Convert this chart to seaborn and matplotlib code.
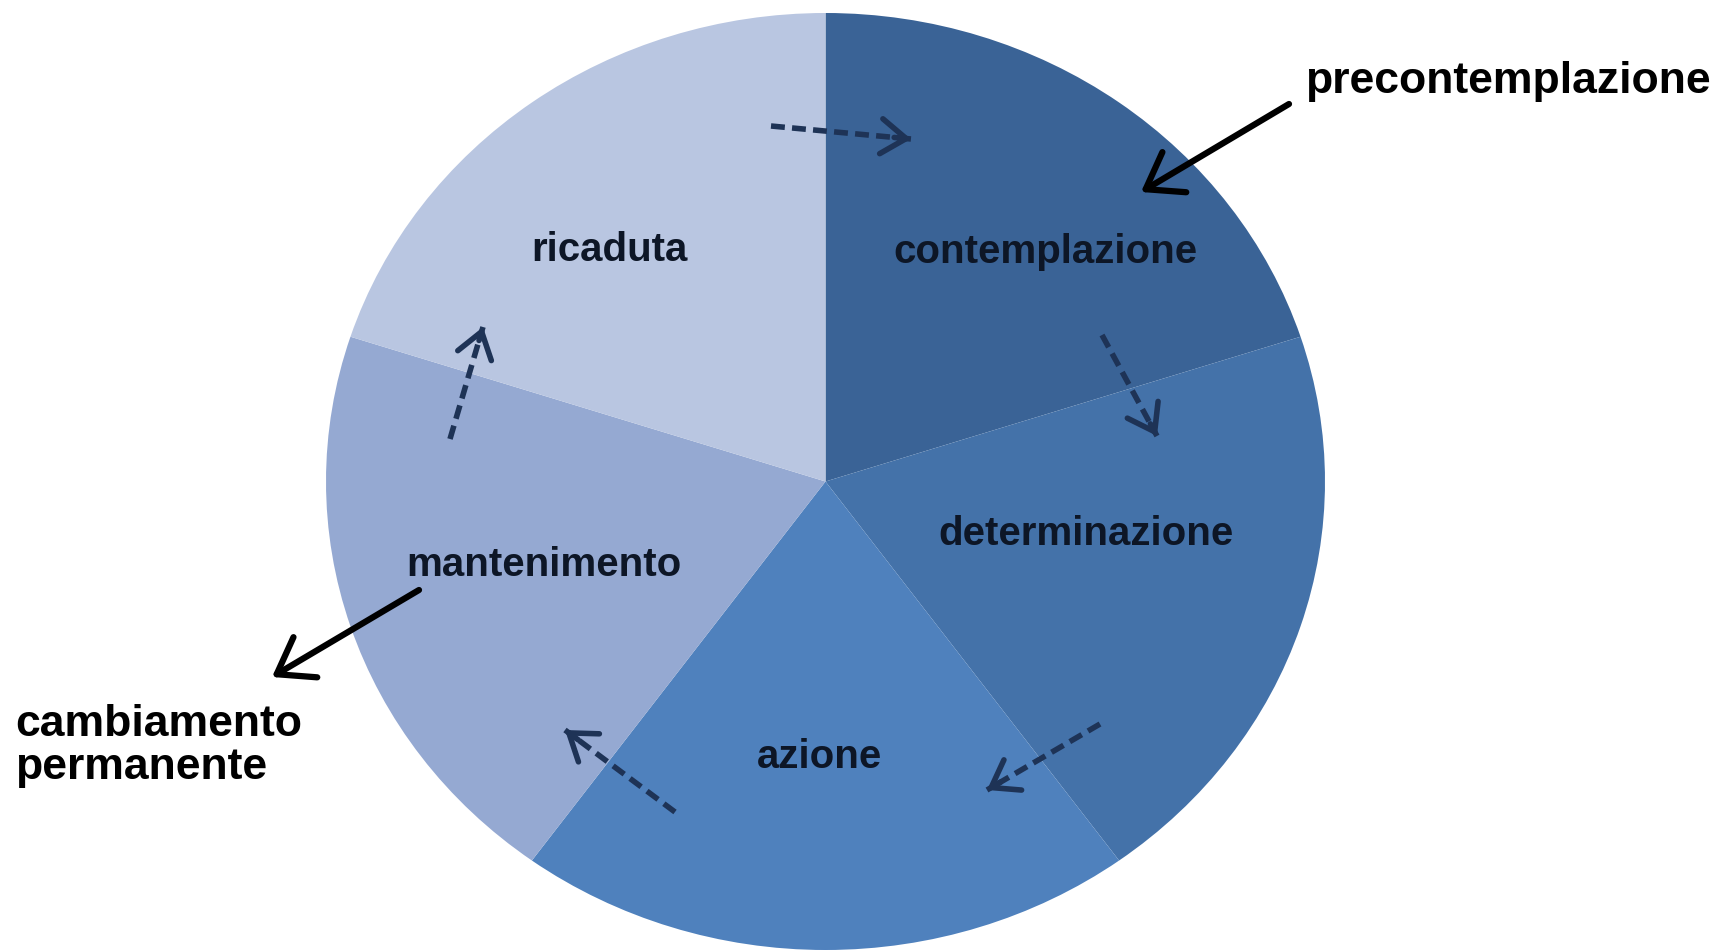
import matplotlib
matplotlib.use('Agg')
import matplotlib.pyplot as plt
import seaborn as sns

# stages of change (equal slices, clockwise from top)
fasi = ['contemplazione', 'determinazione', 'azione', 'mantenimento', 'ricaduta']
quote = [1, 1, 1, 1, 1]
colori = ['#3a6396', '#4472a9', '#4f81bd', '#95a9d2', '#b9c6e1']

# label positions in pixels (x, y from top)
etich_x = [1045, 1086, 819, 544, 609]
etich_y = [252, 534, 757, 565, 250]

sns.set_theme(style='white')
plt.rcParams['font.family'] = ['Liberation Sans', 'DejaVu Sans']

W, H = 1720, 952
fig = plt.figure(figsize=(W / 100, H / 100), dpi=100)

# pie axes, stretched a little in width like the original
x0, x1, y0, y1 = 326, 1325, 13, 950
ax = fig.add_axes([x0 / W, 1 - y1 / H, (x1 - x0) / W, (y1 - y0) / H])
ax.pie(quote, colors=colori, startangle=90, counterclock=False,
       wedgeprops=dict(linewidth=0))
ax.set_aspect('auto')
ax.set_xlim(-1, 1)
ax.set_ylim(-1, 1)
ax.axis('off')

# overlay in pixel coords for texts and arrows
ov = fig.add_axes([0, 0, 1, 1])
ov.set_xlim(0, W)
ov.set_ylim(H, 0)
ov.axis('off')
ov.patch.set_alpha(0)

for nome, x, y in zip(fasi, etich_x, etich_y):
    ov.text(x, y, nome, ha='center', va='center', fontsize=29,
            fontweight='bold', color='#0d1626')

ov.text(1305, 82, 'precontemplazione', ha='left', va='center', fontsize=32,
        fontweight='bold', color='black')
ov.text(15, 746, 'cambiamento\npermanente', ha='left', va='center', fontsize=32,
        fontweight='bold', color='black', linespacing=1.08)

# solid arrows
solide = [((1289, 104), (1141, 192)), ((419, 590), (272, 677))]
for (xa, ya), (xb, yb) in solide:
    ov.annotate('', xy=(xb, yb), xytext=(xa, ya),
                arrowprops=dict(arrowstyle='->,head_length=0.6,head_width=0.42',
                                lw=4.5, color='black', mutation_scale=40,
                                shrinkA=0, shrinkB=0))

# dashed cycle arrows
tratteggiate = [((771, 126), (911, 139)), ((1102, 335), (1157, 436)),
                ((1100, 724), (987, 790)), ((675, 812), (565, 730)),
                ((450, 439), (483, 327))]
blu = '#1e3356'
for (xa, ya), (xb, yb) in tratteggiate:
    ov.plot([xa, xb], [ya, yb], color=blu, lw=4, linestyle=(0, (2.5, 1.3)),
            solid_capstyle='butt', dash_capstyle='butt')
    fx = xb - (xb - xa) * 0.12
    fy = yb - (yb - ya) * 0.12
    ov.annotate('', xy=(xb, yb), xytext=(fx, fy),
                arrowprops=dict(arrowstyle='->,head_length=0.6,head_width=0.42',
                                lw=4, color=blu, mutation_scale=30,
                                shrinkA=0, shrinkB=0))

fig.savefig('out.png', dpi=100)
